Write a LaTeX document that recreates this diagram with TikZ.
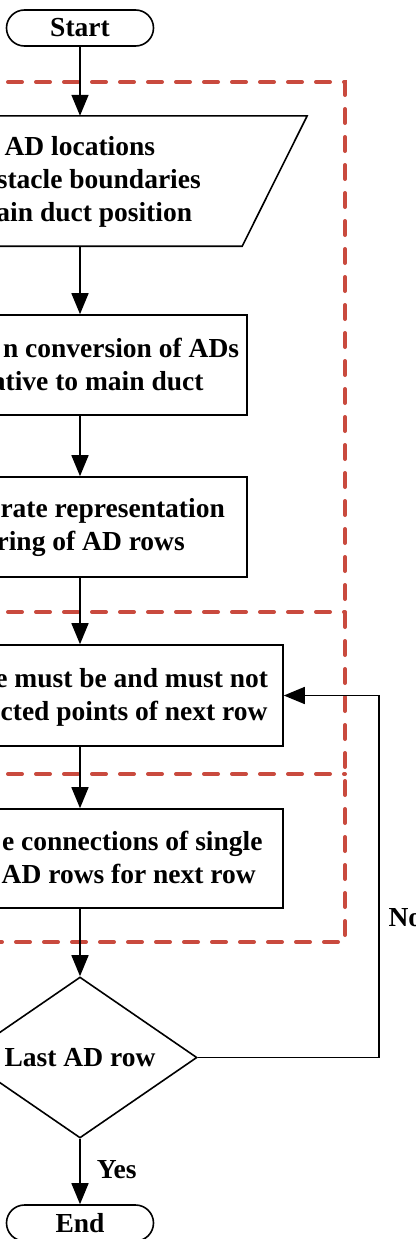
\documentclass[tikz,border=0pt]{standalone}
\usepackage{fontspec}
\setmainfont{Liberation Serif}
\usetikzlibrary{arrows.meta,shapes.geometric}
\definecolor{dashred}{RGB}{201,74,62}

\begin{document}
\begin{tikzpicture}[x=1pt,y=-1pt,
  lbl/.style={font=\fontsize{27.5}{33}\selectfont\bfseries, inner sep=0pt},
  boxnode/.style={draw, line width=1.6pt, inner sep=0pt},
  term/.style={draw, line width=1.6pt, rounded corners=18pt, minimum width=147pt,
    minimum height=36pt, inner sep=0pt, lbl},
  flow/.style={line width=1.6pt, -{Triangle[length=21pt,width=17pt]}},
  plain/.style={line width=1.6pt},
  region/.style={draw=dashred, line width=4pt, dash pattern=on 14pt off 14pt, line cap=round}]
\useasboundingbox (0,0) rectangle (415,1239);
\clip (0,0) rectangle (415,1239);

% dashed stage frames
\draw[region] (-20,82) -- (345,82) -- (345,942) -- (-20,942);
\draw[region] (-20,612) -- (345,612);
\draw[region] (-20,774) -- (345,774);

% terminals
\node[term] (start) at (80,28) {Start};
\node[term] (end) at (80,1223) {End};

% input parallelogram
\node[minimum width=454pt, minimum height=130pt, inner sep=0pt] (input) at (80,181) {};
\draw[plain] (input.south west) -- ([xshift=65pt]input.north west) -- (input.north east)
  -- ([xshift=-65pt]input.south east) -- cycle;
\node[lbl, anchor=base east] (in1) at (155.3,155) {AD locations};
\node[lbl, anchor=base east] (in2) at (201,188) {stacle boundaries};
\node[lbl, anchor=base east] (in3) at (192.3,221) {main duct position};

% process boxes
\node[boxnode, minimum width=334pt, minimum height=100pt] (conv) at (80,365) {};
\node[lbl, anchor=base east] (conv1) at (239.3,357) {n conversion of ADs};
\node[lbl, anchor=base east] (conv2) at (203.7,390) {ative to main duct};

\node[boxnode, minimum width=334pt, minimum height=100pt] (rows) at (80,527) {};
\node[lbl, anchor=base east] (rows1) at (225,517) {rate representation};
\node[lbl, anchor=base east] (rows2) at (185,550) {ring of AD rows};

\node[boxnode, minimum width=406pt, minimum height=101pt] (must) at (80,695.5) {};
\node[lbl, anchor=base east] (must1) at (268.3,687) {e must be and must not};
\node[lbl, anchor=base east] (must2) at (267.7,720) {cted points of next row};

\node[boxnode, minimum width=406pt, minimum height=99pt] (conn) at (80,858.5) {};
\node[lbl, anchor=base east] (conn1) at (262.7,850.7) {e connections of single};
\node[lbl, anchor=base east] (conn2) at (256,883) {AD rows for next row};

% decision
\node[draw, line width=1.6pt, diamond, aspect=1.45, inner sep=0pt,
  minimum width=234pt, minimum height=161pt, lbl] (last) at (80,1057.5) {Last AD row};
\coordinate (loop) at (379,1057.5);

% connectors
\draw[flow] (start.south) -- (input.north);
\draw[flow] (input.south) -- (conv.north);
\draw[flow] (conv.south) -- (rows.north);
\draw[flow] (rows.south) -- (must.north);
\draw[flow] (must.south) -- (conn.north);
\draw[flow] (conn.south) -- (last.north);
\draw[flow] (last.south) -- (end.north);
\draw[flow] (last.east) -- (loop) |- (must.east);

\node[lbl, anchor=base west] (yes) at (96.7,1178) {Yes};
\node[lbl, anchor=base west] (no) at (388.3,926) {No};
\end{tikzpicture}
\end{document}
